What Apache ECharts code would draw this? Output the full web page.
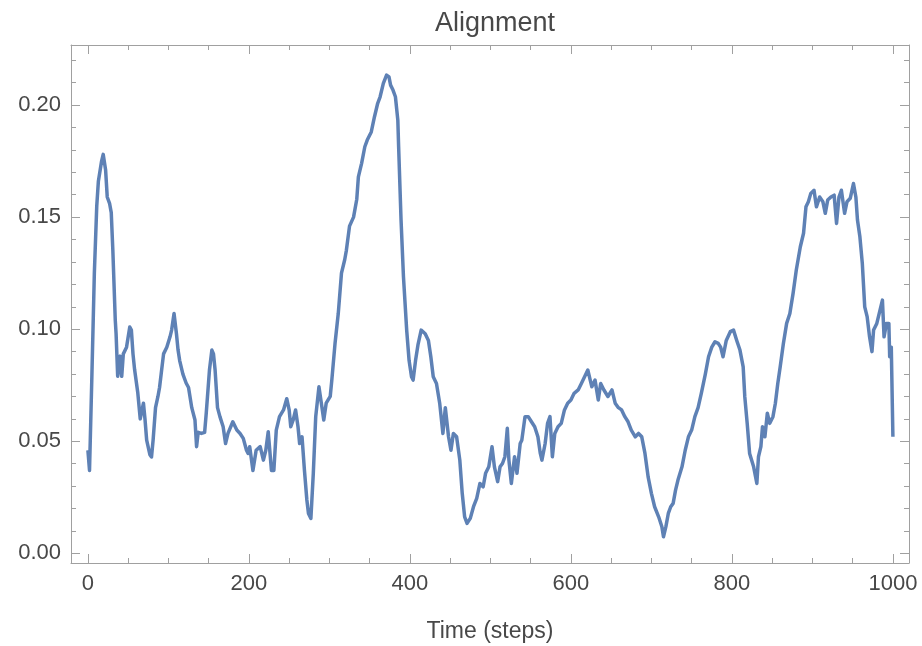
<!DOCTYPE html>
<html>
<head>
<meta charset="utf-8">
<script src="https://cdn.jsdelivr.net/npm/echarts@6/dist/echarts.min.js"></script>
<style>
html,body{margin:0;padding:0;background:#fff;}
#chart{width:922px;height:646px;}
</style>
</head>
<body>
<div id="chart"></div>
<script>
const steps = [0,2,5,8,11,13,17,19,22,24,27,29,31,34,35,37,40,42,44,48,52,54,56,58,62,65,69,71,73,77,79,81,84,87,89,91,94,98,102,104,107,110,112,114,118,122,125,129,133,135,137,141,145,147,151,154,156,158,161,164,168,171,174,180,185,189,193,197,199,201,205,209,214,218,221,224,228,231,234,238,243,247,250,252,255,258,261,263,266,269,272,274,277,280,283,287,290,293,296,301,303,307,311,315,319,321,325,330,334,336,340,344,347,352,356,360,363,367,371,374,376,379,382,385,386,389,392,396,399,402,404,407,410,414,419,423,426,429,433,437,441,444,448,451,454,458,462,465,468,471,475,479,483,487,491,494,498,502,505,509,512,515,518,521,523,526,530,533,537,539,543,547,551,555,559,562,564,568,571,574,577,580,584,588,592,596,600,604,609,613,617,621,624,626,630,634,637,641,646,651,655,659,663,667,671,675,680,684,688,692,696,700,704,709,713,715,718,721,724,727,730,733,738,742,746,750,754,758,762,767,771,775,779,783,786,789,793,798,802,806,810,814,816,819,822,827,831,833,836,838,841,844,847,851,854,857,860,864,868,872,876,880,885,889,892,895,898,902,905,909,913,916,919,923,927,930,933,936,940,943,947,951,954,956,959,962,965,968,971,974,976,980,984,987,989,992,995,996,998,1000];
const alignment = [0.046,0.037,0.080,0.125,0.155,0.166,0.175,0.178,0.171,0.159,0.156,0.152,0.135,0.104,0.098,0.079,0.088,0.079,0.089,0.092,0.101,0.0996,0.089,0.082,0.0715,0.060,0.067,0.0595,0.0505,0.044,0.043,0.0505,0.065,0.070,0.074,0.080,0.089,0.092,0.0966,0.0996,0.107,0.098,0.0907,0.086,0.080,0.076,0.074,0.065,0.0595,0.0476,0.054,0.0535,0.054,0.0625,0.0818,0.0907,0.089,0.0818,0.065,0.061,0.0565,0.049,0.0535,0.0587,0.055,0.0535,0.0513,0.046,0.0446,0.0476,0.037,0.046,0.0476,0.0416,0.046,0.0543,0.037,0.037,0.055,0.061,0.064,0.069,0.064,0.0565,0.0595,0.064,0.0565,0.049,0.052,0.037,0.0238,0.0178,0.0156,0.0357,0.061,0.0743,0.067,0.0595,0.067,0.070,0.0773,0.0937,0.107,0.125,0.131,0.135,0.146,0.150,0.158,0.168,0.174,0.1814,0.1844,0.188,0.1948,0.2008,0.2037,0.2097,0.2134,0.2126,0.2089,0.2067,0.2037,0.1933,0.1814,0.1487,0.1234,0.0996,0.086,0.0788,0.0773,0.086,0.093,0.0996,0.098,0.095,0.0877,0.0788,0.0758,0.067,0.0535,0.065,0.052,0.046,0.0535,0.052,0.0416,0.0268,0.0163,0.0134,0.0156,0.0208,0.0245,0.0312,0.0297,0.0357,0.0386,0.0476,0.0386,0.032,0.0386,0.0401,0.0431,0.0558,0.0416,0.0312,0.0431,0.0357,0.049,0.0505,0.061,0.061,0.0587,0.0565,0.052,0.0446,0.0416,0.049,0.058,0.061,0.0431,0.0535,0.0565,0.058,0.064,0.067,0.0684,0.0714,0.0729,0.0758,0.0788,0.0818,0.0773,0.0743,0.0773,0.0684,0.0758,0.0729,0.070,0.0729,0.067,0.065,0.064,0.061,0.0587,0.055,0.052,0.0535,0.052,0.0446,0.034,0.0268,0.0208,0.0163,0.0119,0.0074,0.0119,0.0178,0.0208,0.0223,0.0282,0.0327,0.0386,0.046,0.052,0.055,0.061,0.065,0.0714,0.080,0.0877,0.092,0.0944,0.0937,0.092,0.0877,0.095,0.0989,0.0996,0.095,0.0907,0.0832,0.0699,0.058,0.0446,0.0386,0.0312,0.0431,0.0476,0.0565,0.052,0.0625,0.058,0.061,0.067,0.0758,0.0832,0.0937,0.1026,0.107,0.116,0.1264,0.1368,0.1428,0.1546,0.1569,0.1606,0.162,0.1546,0.159,0.1569,0.1517,0.1576,0.159,0.1598,0.1472,0.159,0.162,0.1517,0.1569,0.1584,0.165,0.159,0.1487,0.1412,0.1294,0.110,0.1056,0.0966,0.090,0.0996,0.1026,0.1085,0.113,0.0966,0.1026,0.1026,0.0877,0.092,0.052];

const xMajorTicks = [0,200,400,600,800,1000];
const xMinorTicks = [50,100,150,250,300,350,450,500,550,650,700,750,850,900,950];
const yMajorTicks = [0,0.05,0.10,0.15,0.20];
const yMinorTicks = [0.01,0.02,0.03,0.04,0.06,0.07,0.08,0.09,0.11,0.12,0.13,0.14,0.16,0.17,0.18,0.19,0.21,0.22];

const FRAME = '#a0a0a0';
const TEXT = '#484848';
const FONT = 'Liberation Sans';
const X_MIN = -21, X_MAX = 1020, Y_MIN = -0.0043, Y_MAX = 0.2268;

function xAx(pos, ticks, len, labels, line) {
  return {
    type: 'value', position: pos, min: X_MIN, max: X_MAX,
    axisLine: {show: line, onZero: false, lineStyle: {color: FRAME, width: 1}},
    axisTick: {show: true, inside: true, length: len, customValues: ticks, lineStyle: {color: FRAME, width: 1}},
    axisLabel: labels ? {show: true, customValues: ticks, margin: 10, fontSize: 22, color: TEXT, fontFamily: FONT,
      formatter: v => String(Math.round(v))} : {show: false},
    splitLine: {show: false}, minorTick: {show: false}
  };
}
function yAx(pos, ticks, len, labels, line) {
  return {
    type: 'value', position: pos, min: Y_MIN, max: Y_MAX,
    axisLine: {show: line, onZero: false, lineStyle: {color: FRAME, width: 1}},
    axisTick: {show: true, inside: true, length: len, customValues: ticks, lineStyle: {color: FRAME, width: 1}},
    axisLabel: labels ? {show: true, customValues: ticks, margin: 10, fontSize: 22, color: TEXT, fontFamily: FONT,
      formatter: v => v.toFixed(2)} : {show: false},
    splitLine: {show: false}, minorTick: {show: false}
  };
}

const xAxes = [xAx('bottom', xMajorTicks, 9, true, true), xAx('bottom', xMinorTicks, 5, false, false),
               xAx('top', xMajorTicks, 9, false, true), xAx('top', xMinorTicks, 5, false, false)];
xAxes[0].name = 'Time (steps)';
xAxes[0].nameLocation = 'middle';
xAxes[0].nameGap = 57;
xAxes[0].nameTextStyle = {fontSize: 23, color: TEXT, fontFamily: FONT};

const yAxes = [yAx('left', yMajorTicks, 9, true, true), yAx('left', yMinorTicks, 5, false, false),
               yAx('right', yMajorTicks, 9, false, true), yAx('right', yMinorTicks, 5, false, false)];

const chart = echarts.init(document.getElementById('chart'), null, {renderer: 'canvas'});
chart.setOption({
  animation: false,
  backgroundColor: '#fff',
  title: {text: 'Alignment', left: 490, top: 5, textAlign: 'center',
    textStyle: {fontSize: 27, fontWeight: 'normal', color: TEXT, fontFamily: FONT}},
  grid: {left: 71, right: 13, top: 45, bottom: 83, containLabel: false, outerBoundsMode: 'none'},
  xAxis: xAxes,
  yAxis: yAxes,
  series: [{
    type: 'line',
    xAxisIndex: 0, yAxisIndex: 0,
    data: steps.map((s, i) => [s, alignment[i]]),
    showSymbol: false,
    symbol: 'none',
    lineStyle: {color: '#5E81B5', width: 3.5, join: 'round'},
    itemStyle: {color: '#5E81B5'},
    clip: true
  }]
});
</script>
</body>
</html>
